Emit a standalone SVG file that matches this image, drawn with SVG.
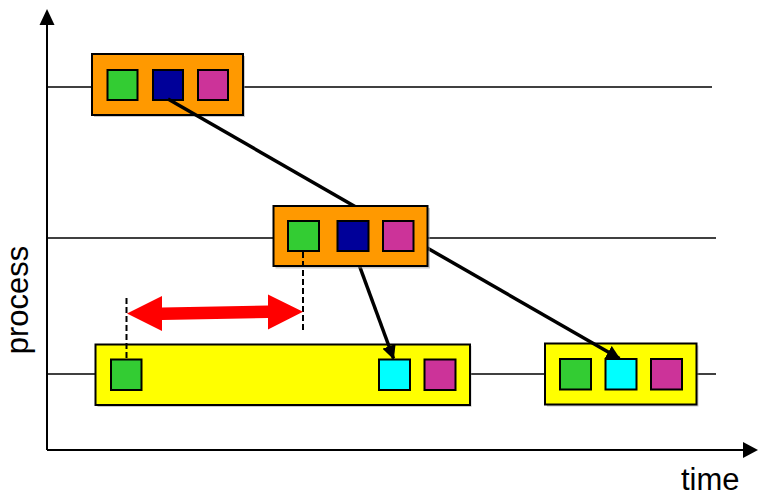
<svg xmlns="http://www.w3.org/2000/svg" width="758" height="497" viewBox="0 0 758 497">
  <style>
    .axis { stroke: #000; stroke-width: 2; fill: none; }
    .lane { stroke: #000; stroke-width: 1.5; fill: none; }
    .box { stroke: #000; stroke-width: 2; }
    .shadow { fill: #9a9a9a; opacity: 0.5; }
    .orange { fill: #FF9900; }
    .yellow { fill: #FFFF00; }
    .sq { stroke: #000; stroke-width: 2; }
    .green { fill: #33CC33; }
    .navy { fill: #000099; }
    .magenta { fill: #CC3399; }
    .cyan { fill: #00FFFF; }
    .msg { stroke: #000; stroke-width: 3.5; fill: none; marker-end: url(#head); }
    .dash { stroke: #000; stroke-width: 2; stroke-dasharray: 6 3; fill: none; }
    .label { font-family: "Liberation Sans", Arial, sans-serif; font-size: 31px; fill: #000; }
  </style>
  <defs>
    <marker id="head" markerUnits="userSpaceOnUse" markerWidth="14" markerHeight="14" viewBox="0 0 14 14" refX="13" refY="7" orient="auto">
      <path d="M0,0 L14,7 L0,14 Z" fill="#000"/>
    </marker>
  </defs>

  <!-- axes -->
  <g id="axes">
    <line class="axis" x1="47" y1="450" x2="47" y2="22"/>
    <path d="M47,9 L39.5,25 L54.5,25 Z" fill="#000"/>
    <line class="axis" x1="47" y1="450" x2="745" y2="450"/>
    <path d="M758,450 L743,442 L743,458 Z" fill="#000"/>
    <text class="label" x="681" y="490">time</text>
    <text class="label" transform="translate(28,300) rotate(-90)" text-anchor="middle">process</text>
  </g>

  <!-- process timelines -->
  <g id="lanes">
    <line class="lane" x1="47" y1="87" x2="712" y2="87"/>
    <line class="lane" x1="47" y1="238" x2="716" y2="238"/>
    <line class="lane" x1="47" y1="374" x2="716" y2="374"/>
  </g>

  <!-- top process block -->
  <g id="block-top">
    <rect class="shadow" x="94" y="56" width="151" height="61"/>
    <rect class="box orange" x="92" y="54" width="151" height="61"/>
    <rect class="sq green" x="107.5" y="70" width="30" height="30"/>
    <rect class="sq navy" x="153" y="70" width="30" height="30"/>
    <rect class="sq magenta" x="198" y="70" width="30" height="30"/>
  </g>

  <!-- bottom process, long block -->
  <g id="block-bottom-left">
    <rect class="shadow" x="97.5" y="346" width="374" height="61"/>
    <rect class="box yellow" x="95.5" y="344.5" width="374.5" height="60.5"/>
    <rect class="sq green" x="111" y="359.5" width="30.5" height="30.5"/>
    <rect class="sq cyan" x="379" y="359.5" width="31" height="30.5"/>
    <rect class="sq magenta" x="424.5" y="359.5" width="31" height="30.5"/>
  </g>

  <!-- bottom process, short block -->
  <g id="block-bottom-right">
    <rect class="shadow" x="547" y="345.5" width="151.5" height="61"/>
    <rect class="box yellow" x="545" y="343.5" width="151.5" height="61"/>
    <rect class="sq green" x="560" y="359" width="31" height="30.5"/>
    <rect class="sq cyan" x="605.5" y="359" width="31" height="30.5"/>
    <rect class="sq magenta" x="651" y="359" width="31" height="30.5"/>
  </g>

  <!-- messages -->
  <g id="connectors">
    <line class="msg" x1="168" y1="99" x2="619.5" y2="358.5"/>
    <line class="msg" x1="354" y1="251" x2="393.5" y2="358.5"/>
  </g>

  <!-- middle process block -->
  <g id="block-middle">
    <rect class="shadow" x="275.5" y="208" width="154.5" height="60.5"/>
    <rect class="box orange" x="273.5" y="206" width="154" height="60"/>
    <rect class="sq green" x="288" y="221" width="31" height="30"/>
    <rect class="sq navy" x="337.5" y="221" width="31" height="30"/>
    <rect class="sq magenta" x="383" y="221" width="30.5" height="30"/>
  </g>

  <!-- interval marker -->
  <g id="interval">
    <line class="dash" x1="126.5" y1="298" x2="126.5" y2="359"/>
    <line class="dash" x1="303" y1="252" x2="303" y2="331"/>
    <polygon fill="#FF0000" points="127,313.5 162,296 162,307.5 268,305.5 268,294.5 303,311.8 268,329.5 268,318 162,320 162,331"/>
  </g>
</svg>
